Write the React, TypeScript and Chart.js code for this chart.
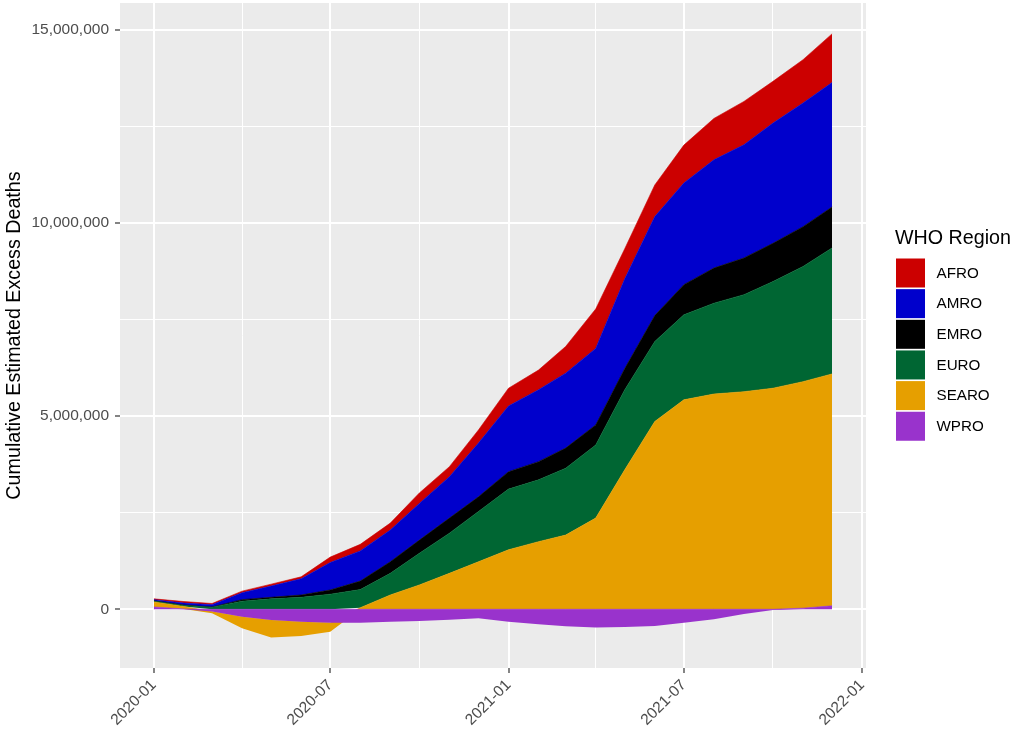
import React, { useEffect, useRef } from 'react';
import { Chart, registerables } from 'chart.js';

Chart.register(...registerables);

const FONT = '"Liberation Sans", Arial, Helvetica, sans-serif';

// Monthly observation dates
const months = [
  '2020-01', '2020-02', '2020-03', '2020-04', '2020-05', '2020-06',
  '2020-07', '2020-08', '2020-09', '2020-10', '2020-11', '2020-12',
  '2021-01', '2021-02', '2021-03', '2021-04', '2021-05', '2021-06',
  '2021-07', '2021-08', '2021-09', '2021-10', '2021-11', '2021-12',
];

// Cumulative estimated excess deaths by WHO region
const AFRO = [20000, 40000, 30000, 40000, 50000, 50000, 140000, 170000, 180000, 270000, 260000, 340000,
  460000, 510000, 690000, 1020000, 780000, 820000, 980000, 1070000, 1120000, 1080000, 1120000, 1260000];
const AMRO = [30000, 50000, 60000, 180000, 290000, 420000, 710000, 780000, 820000, 950000, 1070000, 1390000,
  1700000, 1860000, 1940000, 1980000, 2320000, 2560000, 2630000, 2800000, 2930000, 3110000, 3200000, 3220000];
const EMRO = [10000, 10000, 10000, 40000, 40000, 60000, 110000, 220000, 300000, 340000, 390000, 380000,
  450000, 470000, 520000, 520000, 550000, 670000, 780000, 910000, 950000, 990000, 1030000, 1060000];
const EURO = [20000, 30000, 50000, 210000, 270000, 310000, 390000, 470000, 560000, 820000, 1040000, 1300000,
  1570000, 1600000, 1730000, 1890000, 2070000, 2070000, 2200000, 2350000, 2510000, 2760000, 2980000, 3260000];
const SEARO = [130000, 60000, -40000, -300000, -450000, -370000, -230000, 40000, 370000, 630000, 930000, 1230000,
  1540000, 1750000, 1920000, 2360000, 3610000, 4860000, 5420000, 5570000, 5630000, 5720000, 5860000, 6000000];
const WPRO = [60000, 10000, -60000, -190000, -280000, -320000, -350000, -350000, -320000, -300000, -270000, -230000,
  -320000, -390000, -440000, -470000, -460000, -430000, -350000, -260000, -120000, -20000, 30000, 90000];

const regionNames = ['AFRO', 'AMRO', 'EMRO', 'EURO', 'SEARO', 'WPRO'];
const regionColors = ['#CC0000', '#0000CC', '#000000', '#006633', '#E69F00', '#9933CC'];
const regionValues = [AFRO, AMRO, EMRO, EURO, SEARO, WPRO];

const xMajorTicks = ['2020-01', '2020-07', '2021-01', '2021-07', '2022-01'];
const xMinorTicks = ['2020-04', '2020-10', '2021-04', '2021-10'];
const yMajorTicks = [0, 5000000, 10000000, 15000000];
const yMinorTicks = [2500000, 7500000, 12500000];

const yTitle = 'Cumulative Estimated Excess Deaths';
const legendTitle = 'WHO Region';

const dayOf = (ym: string) =>
  (Date.UTC(+ym.slice(0, 4), +ym.slice(5, 7) - 1, 1) - Date.UTC(2020, 0, 1)) / 86400000;

const xMajorDays = xMajorTicks.map(dayOf);
const xMinorDays = xMinorTicks.map(dayOf);

function buildDatasets() {
  const xs = months.map(dayOf);
  const pos = xs.map(() => 0);
  const neg = xs.map(() => 0);
  // stacking from zero outwards: WPRO, SEARO, EURO, EMRO, AMRO, AFRO
  const stackOrder = [5, 4, 3, 2, 1, 0];
  const ds: any[] = [];
  stackOrder.forEach((r) => {
    const vals = regionValues[r];
    const lower: number[] = [];
    const upper: number[] = [];
    vals.forEach((v, i) => {
      if (v >= 0) {
        lower.push(pos[i]);
        upper.push(pos[i] + v);
        pos[i] += v;
      } else {
        upper.push(neg[i]);
        lower.push(neg[i] + v);
        neg[i] += v;
      }
    });
    const baseIndex = ds.length;
    ds.push({
      label: regionNames[r] + '_base',
      data: xs.map((x, i) => ({ x, y: lower[i] })),
      borderWidth: 0,
      borderColor: 'rgba(0,0,0,0)',
      pointRadius: 0,
      fill: false,
    });
    ds.push({
      label: regionNames[r],
      data: xs.map((x, i) => ({ x, y: upper[i] })),
      borderWidth: 0.6,
      borderColor: regionColors[r],
      backgroundColor: regionColors[r],
      pointRadius: 0,
      fill: baseIndex,
    });
  });
  return ds;
}

const panelBg = {
  id: 'panelBg',
  beforeDraw(chart: any) {
    const { ctx, chartArea: a } = chart;
    ctx.save();
    ctx.fillStyle = '#EBEBEB';
    ctx.fillRect(a.left, a.top, a.right - a.left, a.bottom - a.top);
    ctx.restore();
  },
};

const whoLegend = {
  id: 'whoLegend',
  afterDraw(chart: any) {
    const ctx = chart.ctx;
    ctx.save();
    ctx.textAlign = 'left';
    ctx.fillStyle = '#000000';
    ctx.font = `19.7px ${FONT}`;
    ctx.textBaseline = 'alphabetic';
    ctx.fillText(legendTitle, 895, 244);
    ctx.font = `15.2px ${FONT}`;
    ctx.textBaseline = 'middle';
    regionNames.forEach((name, i) => {
      const y = 258.5 + i * 30.65;
      ctx.fillStyle = regionColors[i];
      ctx.fillRect(896, y, 29, 29);
      ctx.fillStyle = '#000000';
      ctx.fillText(name, 936.5, y + 15);
    });
    ctx.restore();
  },
};

export default function App() {
  const ref = useRef<HTMLCanvasElement>(null);
  useEffect(() => {
    if (!ref.current) return;
    const chart = new Chart(ref.current, {
      type: 'line',
      data: { datasets: buildDatasets() },
      options: {
        animation: false,
        responsive: false,
        events: [],
        layout: { padding: { top: 3, right: 147, bottom: 0, left: 0 } },
        plugins: {
          legend: { display: false },
          tooltip: { enabled: false },
        },
        scales: {
          x: {
            type: 'linear',
            min: -35,
            max: 735,
            afterBuildTicks: (s: any) => {
              s.ticks = [...xMajorDays, ...xMinorDays].sort((a, b) => a - b).map((v) => ({ value: v }));
            },
            afterFit: (s: any) => {
              s.height = 63;
              s.paddingLeft = 0;
              s.paddingRight = 0;
              s.paddingTop = 0;
              s.paddingBottom = 0;
            },
            ticks: {
              autoSkip: false,
              minRotation: 45,
              maxRotation: 45,
              padding: 3,
              color: '#4D4D4D',
              font: { family: FONT, size: 15.5 },
              callback: (v: any) => {
                const idx = xMajorDays.indexOf(Number(v));
                return idx >= 0 ? xMajorTicks[idx] : '';
              },
            },
            grid: {
              color: '#FFFFFF',
              lineWidth: (c: any) => (c.tick && xMajorDays.includes(c.tick.value) ? 2 : 1),
              tickColor: (c: any) => (c.tick && xMajorDays.includes(c.tick.value) ? '#333333' : 'rgba(0,0,0,0)'),
              tickLength: 5,
              tickWidth: 1.2,
            },
            border: { display: false },
          },
          y: {
            type: 'linear',
            min: -1519000,
            max: 15687000,
            afterBuildTicks: (s: any) => {
              s.ticks = [...yMajorTicks, ...yMinorTicks].sort((a, b) => a - b).map((v) => ({ value: v }));
            },
            afterFit: (s: any) => {
              s.width = 120;
              s.paddingLeft = 0;
              s.paddingRight = 0;
              s.paddingTop = 0;
              s.paddingBottom = 0;
            },
            ticks: {
              padding: 6,
              color: '#4D4D4D',
              font: { family: FONT, size: 15.5 },
              callback: (v: any) => (yMajorTicks.includes(Number(v)) ? Number(v).toLocaleString('en-US') : ''),
            },
            grid: {
              color: '#FFFFFF',
              lineWidth: (c: any) => (c.tick && yMajorTicks.includes(c.tick.value) ? 2 : 1),
              tickColor: (c: any) => (c.tick && yMajorTicks.includes(c.tick.value) ? '#333333' : 'rgba(0,0,0,0)'),
              tickLength: 5,
              tickWidth: 1.2,
            },
            border: { display: false },
            title: {
              display: true,
              text: yTitle,
              color: '#000000',
              font: { family: FONT, size: 19.7 },
              padding: { top: 2.3, bottom: 0 },
            },
          },
        },
      },
      plugins: [panelBg, whoLegend],
    } as any);
    return () => chart.destroy();
  }, []);
  return (
    <div style={{ position: 'fixed', left: 0, top: 0, width: 1013, height: 731, background: '#FFFFFF' }}>
      <canvas ref={ref} width={1013} height={731} style={{ display: 'block', width: 1013, height: 731 }} />
    </div>
  );
}
